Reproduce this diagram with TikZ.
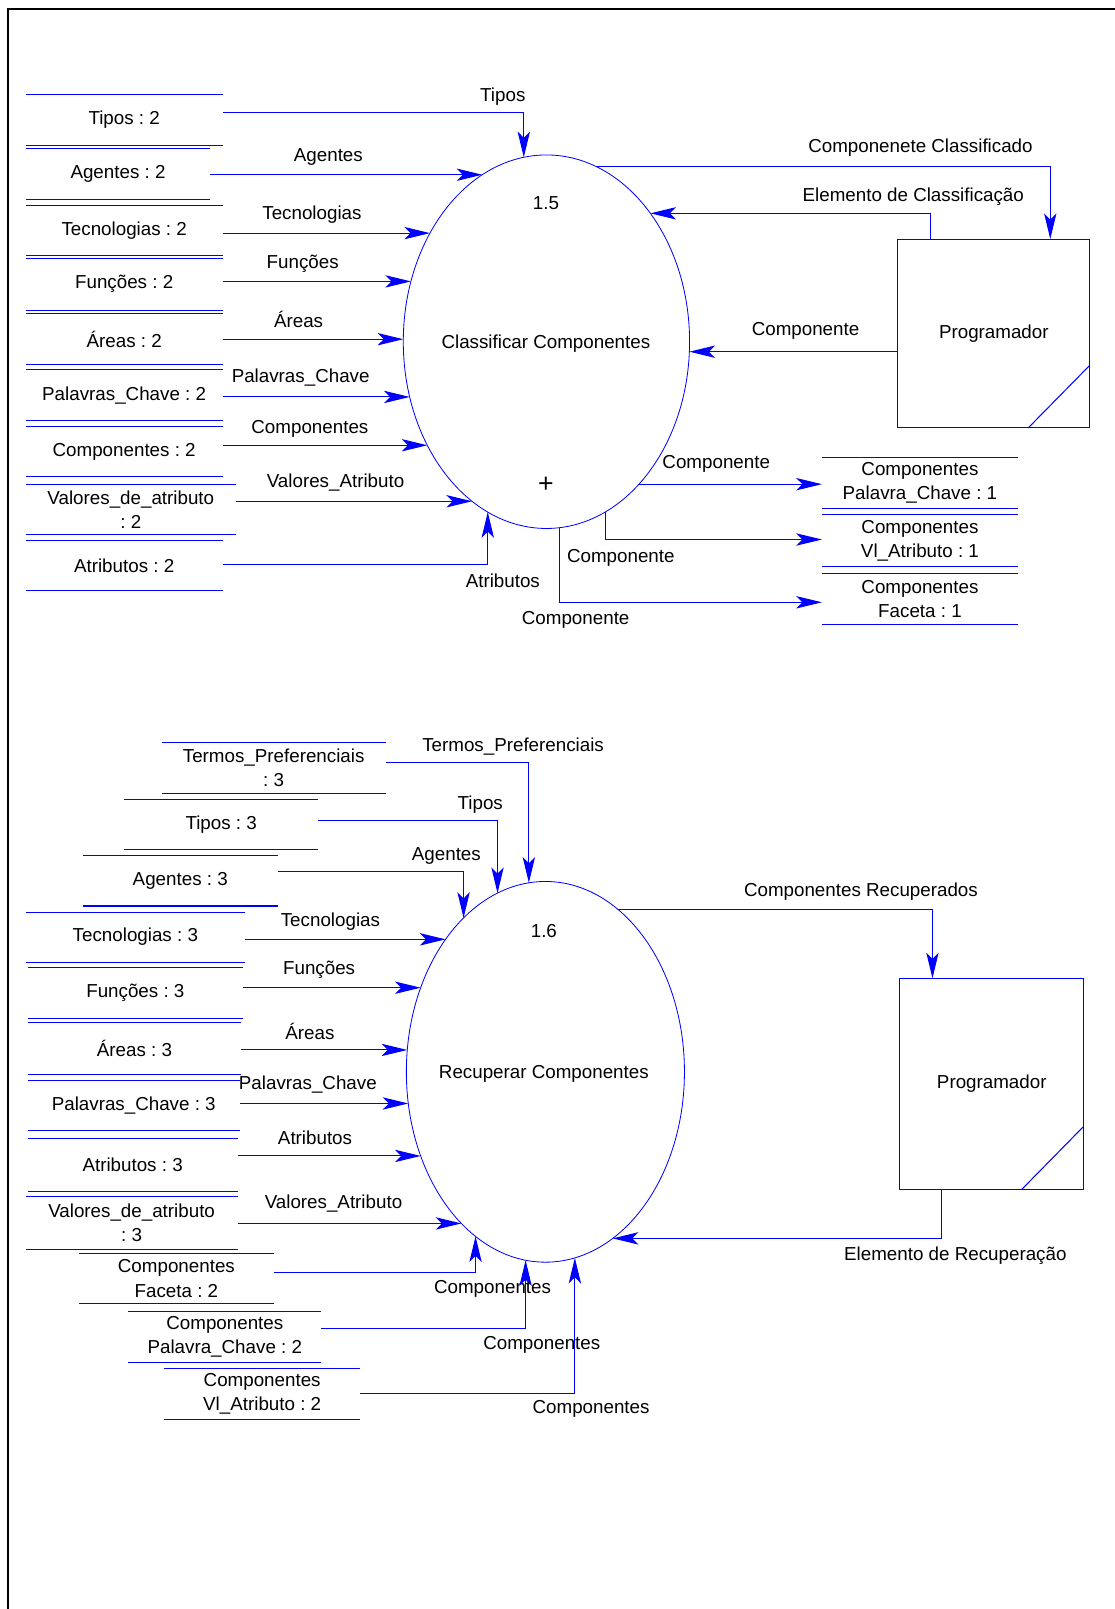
\documentclass[tikz,border=0pt]{standalone}
\usepackage{fontspec}
\setmainfont{Liberation Sans}
\usetikzlibrary{arrows.meta,shapes.geometric}
\frenchspacing

% data store: two horizontal rules with the store name between them
% #1 name, #2 left x, #3 right x, #4 top y, #5 bottom y, #6 text
\newcommand\dstore[6]{%
  \node[storebox, minimum width={#3-#2}, minimum height={#5-#4}] (#1) at ({(#2+#3)/2},{(#4+#5)/2}) {#6};
  \draw[storeline] (#1.north west) -- (#1.north east) (#1.south west) -- (#1.south east);
}

\begin{document}
\begin{tikzpicture}[x=1pt,y=-1pt,
  every node/.style={font=\fontsize{18.3}{23.5}\selectfont, inner sep=0pt, outer sep=0pt},
  lbl/.style={yshift=-2pt},
  storebox/.style={align=center, yshift=-1pt},
  storeline/.style={draw=blue, line width=1pt, yshift=1pt},
  flow/.style={draw=blue, line width=1pt, -{Stealth[length=25pt,width=12pt,inset=6pt]}},
  proc/.style={ellipse, draw=blue, line width=0.8pt},
  ext/.style={rectangle, draw=blue, line width=1pt},
  corner/.style={draw=blue, line width=1pt},
  frame/.style={draw=black, line width=1.6pt},
]
\useasboundingbox (0,0) rectangle (1086,1568);
\draw[frame] (7.7,1575) |- (1095,8.8);

% ---------------- process 1.5 ----------------
\node[proc, minimum width=279, minimum height=364] (E1) at (532.5,333) {};
\node[lbl] (E1id) at (532,196) {1.5};
\node[lbl] (E1name) at (532,333) {Classificar Componentes};
\node[font=\fontsize{26}{26}\selectfont] (E1plus) at (532,472) {+};

\dstore{sA1}{25}{217}{91.3}{140.7}{Tipos : 2}
\dstore{sA2}{25}{205}{144}{193.7}{Agentes : 2}
\dstore{sA3}{25}{217}{198.9}{248}{Tecnologias : 2}
\dstore{sA4}{25}{217}{250.5}{301.2}{Funções : 2}
\dstore{sA5}{25}{217}{304.5}{354.2}{Áreas : 2}
\dstore{sA6}{25}{217}{359.4}{408.8}{Palavras\_Chave : 2}
\dstore{sA7}{25}{217}{414.3}{463.7}{Componentes : 2}
\dstore{sA8}{25}{230}{470.9}{519.9}{Valores\_de\_atributo\\: 2}
\dstore{sA9}{25}{217}{525.4}{574.9}{Atributos : 2}

\dstore{sR1}{801}{992}{445.2}{494.6}{Componentes\\Palavra\_Chave : 1}
\dstore{sR2}{801}{992}{500.4}{551.1}{Componentes\\Vl\_Atributo : 1}
\dstore{sR3}{801}{992}{558.3}{607.6}{Componentes\\Faceta : 1}

\node[ext, minimum width=187, minimum height=184] (P1) at (968.5,325) {Programador};
\draw[corner] ([xshift=-60pt]P1.south east) -- ([yshift=61pt]P1.south east);

\draw[flow] ([yshift=7.8pt]sA1.east) -| (E1.97.9);
\draw[flow] (sA2.east |- E1.111.55) -- (E1.111.55);
\draw[flow] (sA3.east |- E1.137.5) -- (E1.137.5);
\draw[flow] (sA4.east |- E1.156.6) -- (E1.156.6);
\draw[flow] (sA5.east |- E1.179) -- (E1.179);
\draw[flow] (sA6.east |- E1.202.1) -- (E1.202.1);
\draw[flow] (sA7.east |- E1.221.9) -- (E1.221.9);
\draw[flow] (sA8.east |- E1.245.5) -- (E1.245.5);
\draw[flow] ([yshift=1pt]sA9.east) -| (E1.251.6);

\draw[flow] (E1.74.5) -| ([xshift=55pt]P1.north);
\draw[flow] ([xshift=-61.5pt]P1.north) |- (E1.51.8);
\draw[flow] (P1.west |- E1.356.6) -- (E1.356.6);
\draw[flow] (E1.303.6) -- (E1.303.6 -| sR1.west);
\draw[flow] (E1.289.8) |- ([yshift=1pt]sR2.west);
\draw[flow] (E1.274.5) |- ([yshift=-3pt]sR3.west);

\node[lbl] (fA1) at (490,92) {Tipos};
\node[lbl] (fA2) at (320,151) {Agentes};
\node[lbl] (fA3) at (304,207) {Tecnologias};
\node[lbl] (fA4) at (295,255) {Funções};
\node[lbl] (fA5) at (291,309) {Áreas};
\node[lbl] (fA6) at (293,366) {Palavras\_Chave};
\node[lbl] (fA7) at (302,416) {Componentes};
\node[lbl] (fA8) at (327,468) {Valores\_Atributo};
\node[lbl] (fA9) at (490,564) {Atributos};
\node[lbl] (fP1) at (897,142) {Componenete Classificado};
\node[lbl] (fP2) at (890,190) {Elemento de Classificação};
\node[lbl] (fP3) at (785,320) {Componente};
\node[lbl] (fR1) at (698,450) {Componente};
\node[lbl] (fR2) at (605,542) {Componente};
\node[lbl] (fR3) at (561,602) {Componente};

% ---------------- process 1.6 ----------------
\node[proc, minimum width=271, minimum height=371] (E2) at (531.5,1044.5) {};
\node[lbl] (E2id) at (530,905) {1.6};
\node[lbl] (E2name) at (530,1045) {Recuperar Componentes};

\dstore{sB1}{157.4}{376}{723}{772.1}{Termos\_Preferenciais\\: 3}
\dstore{sB2}{121.2}{309.9}{778}{827}{Tipos : 3}
\dstore{sB3}{80.4}{270.9}{832.8}{881.9}{Agentes : 3}
\dstore{sB4}{25}{238.8}{887.8}{936.5}{Tecnologias : 3}
\dstore{sB5}{27}{236.8}{942}{991.7}{Funções : 3}
\dstore{sB6}{27}{235}{995.3}{1046.3}{Áreas : 3}
\dstore{sB7}{27}{233.7}{1051.9}{1100.9}{Palavras\_Chave : 3}
\dstore{sB8}{27}{231.5}{1108.7}{1160}{Atributos : 3}
\dstore{sB9}{25}{231.5}{1165}{1216.3}{Valores\_de\_atributo\\: 3}
\dstore{sB10}{77}{266.8}{1220.2}{1269.6}{Componentes\\Faceta : 2}
\dstore{sB11}{124.9}{313.3}{1277}{1326.5}{Componentes\\Palavra\_Chave : 2}
\dstore{sB12}{160.2}{350.8}{1332.3}{1382.7}{Componentes\\Vl\_Atributo : 2}

\node[ext, minimum width=179, minimum height=206] (P2) at (966.5,1056.4) {Programador};
\draw[corner] ([xshift=-60.6pt]P2.south east) -- ([yshift=61.7pt]P2.south east);

\draw[flow] ([yshift=5.7pt]sB1.east) -| (E2.95.4);
\draw[flow] ([yshift=3.8pt]sB2.east) -| (E2.105.3);
\draw[flow] ([yshift=9.2pt]sB3.east) -| (E2.118.1);
\draw[flow] (sB4.east |- E2.127.5) -- (E2.127.5);
\draw[flow] (sB5.east |- E2.146.8) -- (E2.146.8);
\draw[flow] (sB6.east |- E2.171.6) -- (E2.171.6);
\draw[flow] (sB7.east |- E2.193.1) -- (E2.193.1);
\draw[flow] (sB8.east |- E2.214.8) -- (E2.214.8);
\draw[flow] (sB9.east |- E2.241.2) -- (E2.241.2);
\draw[flow] ([yshift=5.9pt]sB10.east) -| (E2.247.9);
\draw[flow] ([yshift=7.75pt]sB11.east) -| (E2.264.7);
\draw[flow] ([yshift=1pt]sB12.east) -| (E2.279.4);
\draw[flow] (E2.66) -| ([xshift=-57.8pt]P2.north);
\draw[flow] ([xshift=-49.1pt]P2.south) |- (E2.292);

\node[lbl] (fB1) at (500,726) {Termos\_Preferenciais};
\node[lbl] (fB2) at (468,782) {Tipos};
\node[lbl] (fB3) at (435,832) {Agentes};
\node[lbl] (fB4) at (322,896) {Tecnologias};
\node[lbl] (fB5) at (311,943) {Funções};
\node[lbl] (fB6) at (302,1003) {Áreas};
\node[lbl] (fB7) at (300,1055) {Palavras\_Chave};
\node[lbl] (fB8) at (307,1107) {Atributos};
\node[lbl] (fB9) at (325,1171) {Valores\_Atributo};
\node[lbl] (fB10) at (480,1254) {Componentes};
\node[lbl] (fB11) at (528,1309) {Componentes};
\node[lbl] (fB12) at (576,1371) {Componentes};
\node[lbl] (fP4) at (839,867) {Componentes Recuperados};
\node[lbl] (fP5) at (931,1222) {Elemento de Recuperação};
\end{tikzpicture}
\end{document}
